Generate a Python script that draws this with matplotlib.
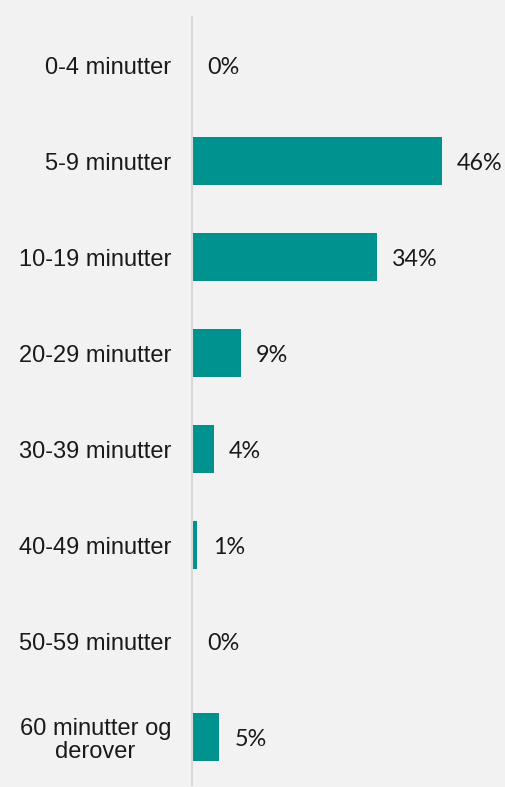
import matplotlib
matplotlib.use("Agg")
import matplotlib.pyplot as plt

categories = ["0-4 minutter", "5-9 minutter", "10-19 minutter", "20-29 minutter",
              "30-39 minutter", "40-49 minutter", "50-59 minutter", "60 minutter og\nderover"]
values = [0, 46, 34, 9, 4, 1, 0, 5]
value_labels = ["0%", "46%", "34%", "9%", "4%", "1%", "0%", "5%"]

bg = "#f2f2f2"
bar_color = "#00928e"
text_color = "#1a1a1a"

fig = plt.figure(figsize=(5.05, 7.87), dpi=100, facecolor=bg)
ax = fig.add_axes([192 / 505, 2 / 787, 313 / 505, 768 / 787], facecolor=bg)

ypos = list(range(len(categories)))
ax.barh(ypos, values, height=0.5, color=bar_color, zorder=2)

ax.set_xlim(0, 57.6)
ax.set_ylim(len(categories) - 0.5, -0.5)

for y, v, lab in zip(ypos, values, value_labels):
    ax.annotate(lab, xy=(v, y), xytext=(11, -1.5), textcoords="offset points",
                ha="left", va="center", fontsize=16.8, family="Lato",
                fontweight="normal", color=text_color)

ax.set_yticks(ypos)
ax.set_yticklabels(categories, family="Liberation Sans", fontsize=17,
                   color=text_color, linespacing=1.1)
for t in ax.get_yticklabels():
    t.set_horizontalalignment("right")
    t.set_multialignment("center")
ax.tick_params(axis="y", length=0, pad=15)
ax.set_xticks([])

for side in ["top", "right", "bottom"]:
    ax.spines[side].set_visible(False)
ax.spines["left"].set_color("#d9d9d9")
ax.spines["left"].set_linewidth(1.5)
ax.spines["left"].set_zorder(3)

fig.savefig("out.png", dpi=100, facecolor=bg)
